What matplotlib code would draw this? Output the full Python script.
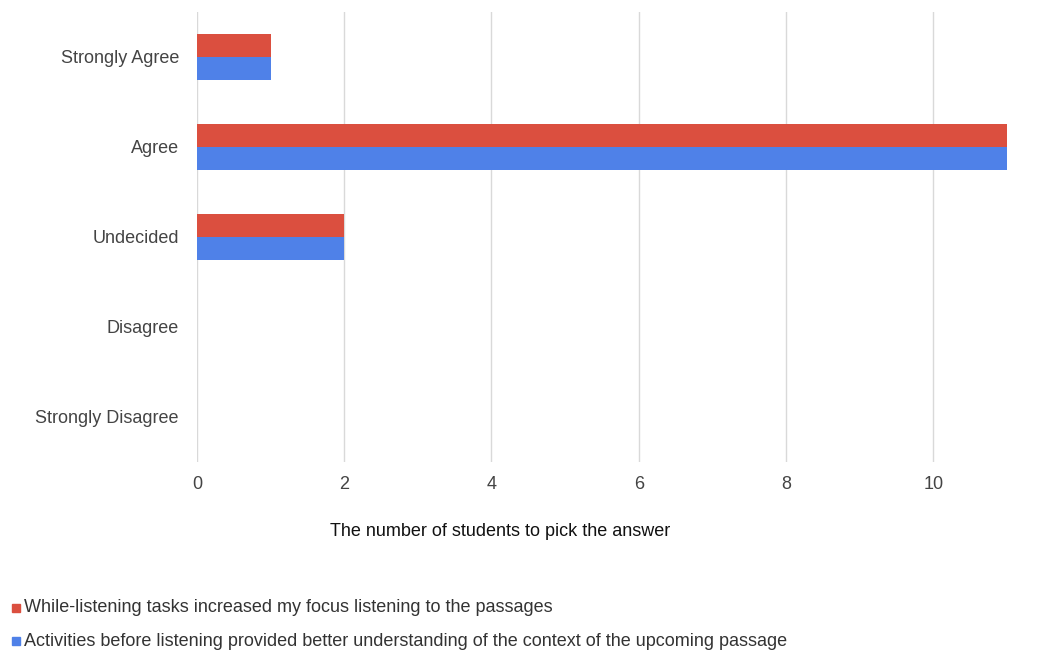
import matplotlib
matplotlib.use("Agg")
import matplotlib.pyplot as plt
import numpy as np

plt.rcParams["font.family"] = ["Liberation Sans", "DejaVu Sans"]

categories = ["Strongly Agree", "Agree", "Undecided", "Disagree", "Strongly Disagree"]
series_names = [
    "While-listening tasks increased my focus listening to the passages",
    "Activities before listening provided better understanding of the context of the upcoming passage",
]
while_listening = [1, 11, 2, 0, 0]
before_listening = [1, 11, 2, 0, 0]
xticks = [0, 2, 4, 6, 8, 10]
colors = ["#db4f3f", "#4f81e8"]

fig = plt.figure(figsize=(10.51, 6.54), dpi=100)
ax = fig.add_axes([0.1874, 0.2936, 0.958 - 0.1874, 0.9817 - 0.2936])

y = np.arange(len(categories))
h = 0.26
ax.barh(y - h / 2, while_listening, height=h, color=colors[0], zorder=3)
ax.barh(y + h / 2, before_listening, height=h, color=colors[1], zorder=3)

ax.set_ylim(len(categories) - 0.5, -0.5)
ax.set_xlim(0, 11)
ax.set_yticks(y)
ax.set_yticklabels(categories)
ax.set_xticks(xticks)
ax.tick_params(axis="both", length=0, labelsize=13, labelcolor="#444444")
ax.tick_params(axis="y", pad=13)
ax.tick_params(axis="x", pad=10)
ax.grid(axis="x", color="#d9d9d9", linewidth=1.0, zorder=0)
for s in ax.spines.values():
    s.set_visible(False)

fig.text(0.476, 0.188, "The number of students to pick the answer", ha="center", va="center",
         fontsize=13, color="#111111")

for i, (name, c) in enumerate(zip(series_names, colors)):
    yy = 1 - (608 + 33 * i) / 654
    fig.patches.append(plt.Rectangle((12 / 1051, yy - 4 / 654), 8 / 1051, 8 / 654,
                                     transform=fig.transFigure, color=c, figure=fig))
    fig.text(24 / 1051, yy, name, ha="left", va="center", fontsize=13, color="#333333")

fig.savefig("out.png", dpi=100)
